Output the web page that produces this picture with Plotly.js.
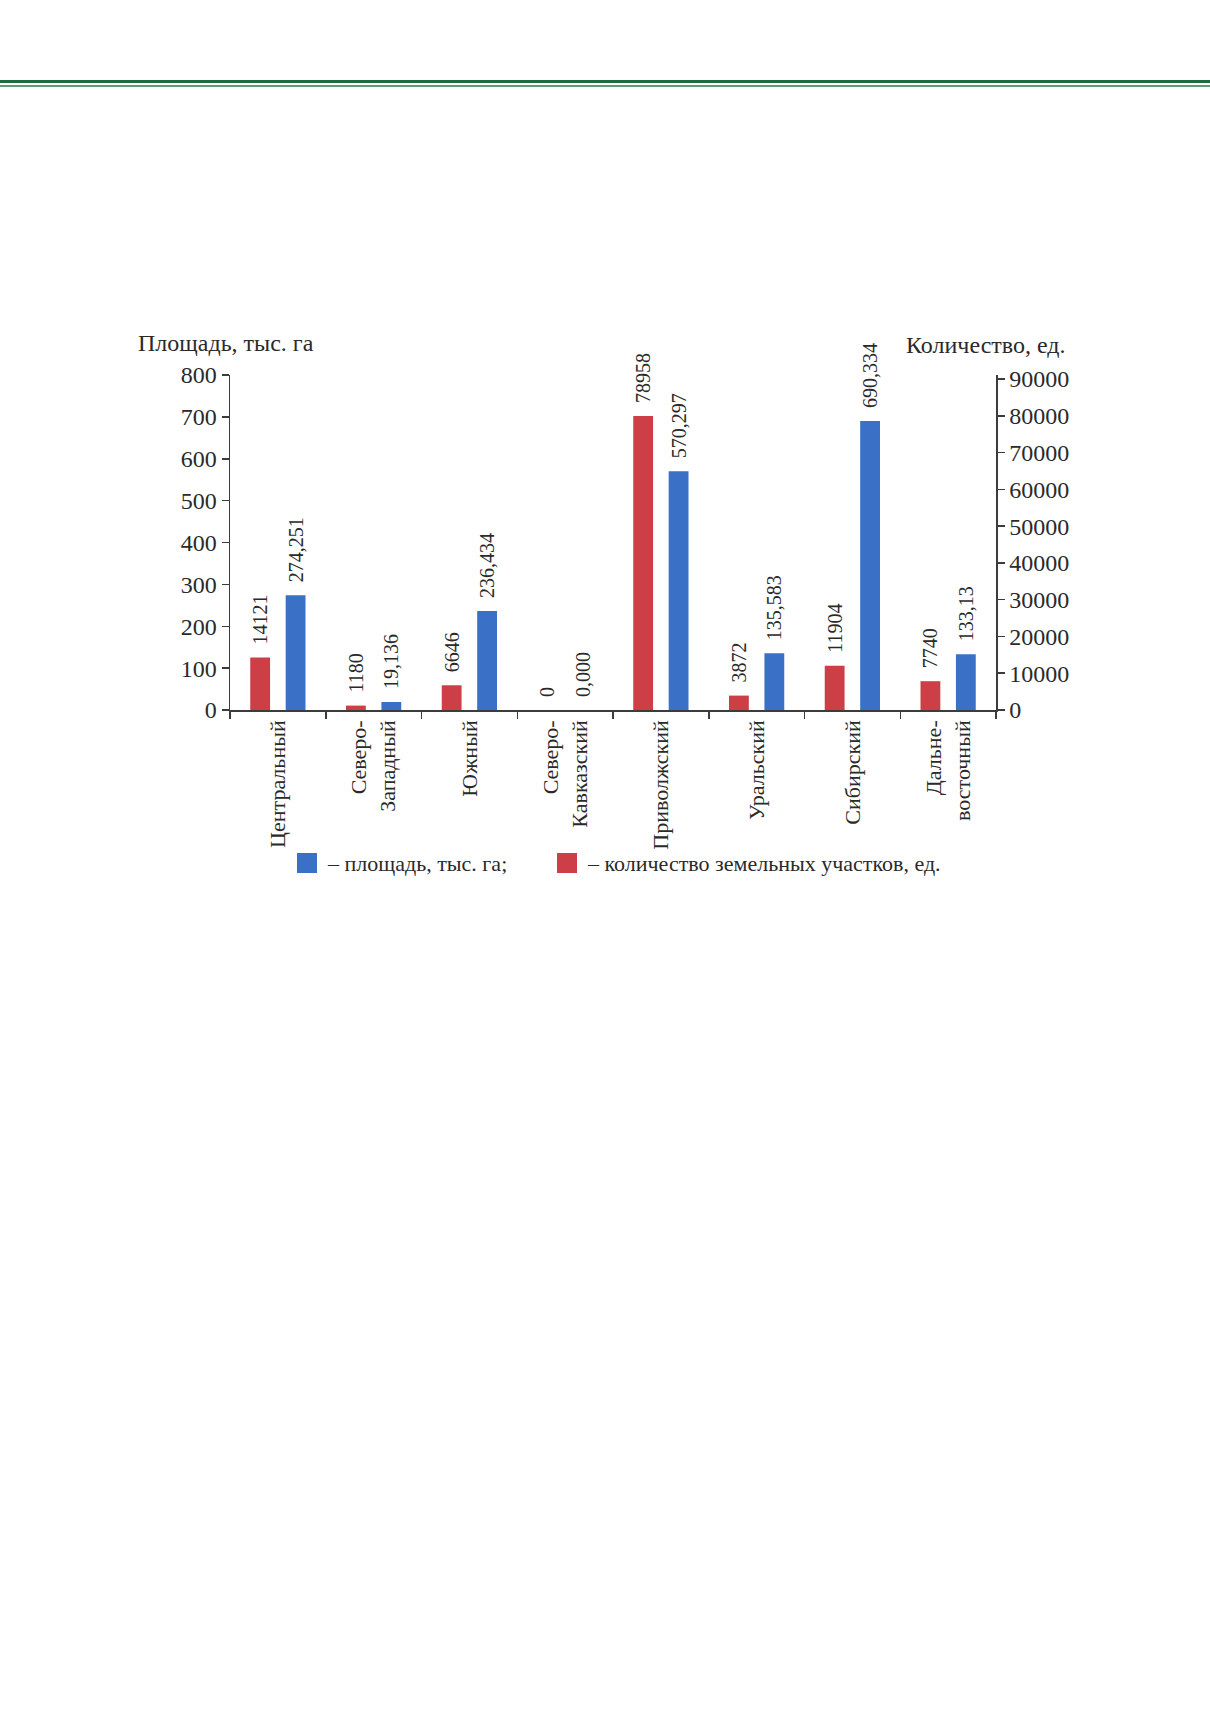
<!DOCTYPE html>
<html>
<head>
<meta charset="utf-8">
<script src="https://cdn.plot.ly/plotly-3.0.1.min.js"></script>
<style>
  html, body { margin: 0; padding: 0; background: #ffffff; }
  #page { position: relative; width: 1210px; height: 1712px; overflow: hidden; }
  .rule-dark  { position: absolute; left: 0; width: 1210px; top: 80px; height: 3px; background: #1c6b3c; }
  .rule-light { position: absolute; left: 0; width: 1210px; top: 85px; height: 2px; background: #5a9f72; }
  #chart { position: absolute; left: 0; top: 0; width: 1210px; height: 1712px; }
</style>
</head>
<body>
<div id="page">
  <div id="chart"></div>
  <div class="rule-dark"></div>
  <div class="rule-light"></div>
</div>
<script>
// Федеральные округа (подписи категорий)
const regions = [
  "Центральный", "Северо-<br>Западный", "Южный", "Северо-<br>Кавказский",
  "Приволжский", "Уральский", "Сибирский", "Дальне-<br>восточный"
];
// Площадь, тыс. га (левая ось)
const area = [274.251, 19.136, 236.434, 0, 570.297, 135.583, 690.334, 133.13];
const areaLabels = ["274,251", "19,136", "236,434", "0,000", "570,297", "135,583", "690,334", "133,13"];
// Количество земельных участков, ед. (правая ось)
const plots = [14121, 1180, 6646, 0, 78958, 3872, 11904, 7740];
const plotLabels = ["14121", "1180", "6646", "0", "78958", "3872", "11904", "7740"];

const leftTicks  = [0, 100, 200, 300, 400, 500, 600, 700, 800];
const rightTicks = [0, 10000, 20000, 30000, 40000, 50000, 60000, 70000, 80000, 90000];

const legendItems = [
  { label: "– площадь, тыс. га;", color: "#3a71c6" },
  { label: "– количество земельных участков, ед.", color: "#cc3f47" },
];

const RED  = "#cc3f47";
const BLUE = "#3a71c6";
const INK  = "#2a2a2a";
const AXIS = "#3c3c3c";
const FONT = "Liberation Serif, Times New Roman, serif";
const PAD  = "\u00a0\u00a0";

// plot box in page pixels
const L = 230, R = 996, T = 375, B = 710;
const PW = R - L, PH = B - T;
const px = x => (x - L) / PW;
const py = y => (B - y) / PH;

const BAR_W = 0.207;

const data = [
  {
    type: "bar", name: "count", x: regions, y: plots, yaxis: "y3",
    width: BAR_W, offset: -0.2885,
    marker: { color: RED, line: { width: 0 } },
    text: plotLabels.map(t => PAD + t), textposition: "outside", textangle: -90,
    constraintext: "none", cliponaxis: false,
    textfont: { family: FONT, size: 20, color: INK },
    showlegend: false, hoverinfo: "skip",
  },
  {
    type: "bar", name: "area", x: regions, y: area, yaxis: "y",
    width: BAR_W, offset: 0.0815,
    marker: { color: BLUE, line: { width: 0 } },
    text: areaLabels.map(t => PAD + t), textposition: "outside", textangle: -90,
    constraintext: "none", cliponaxis: false,
    textfont: { family: FONT, size: 20, color: INK },
    showlegend: false, hoverinfo: "skip",
  },
  // invisible point keeps the right-hand axis drawn
  {
    type: "scatter", mode: "markers", x: [regions[0]], y: [0], yaxis: "y2",
    marker: { opacity: 0 }, showlegend: false, hoverinfo: "skip",
  },
];

const axisCommon = {
  showline: true, linecolor: AXIS, linewidth: 1.5,
  ticks: "outside", ticklen: 7, tickwidth: 1.5, tickcolor: AXIS,
  showgrid: false, zeroline: false,
  tickfont: { family: FONT, size: 24, color: INK },
};

// legend drawn as swatch + text (square swatches 20px as in the source)
const swatchX = [307, 567];
const legendY = 863;
const shapes = legendItems.map((it, i) => ({
  type: "rect", xref: "paper", yref: "paper",
  xsizemode: "pixel", ysizemode: "pixel",
  xanchor: px(swatchX[i]), yanchor: py(legendY),
  x0: -10, x1: 10, y0: -10, y1: 10,
  fillcolor: it.color, line: { width: 0 },
}));
const legendText = legendItems.map((it, i) => ({
  xref: "paper", yref: "paper", x: px(swatchX[i] + 18), y: py(legendY),
  xanchor: "left", yanchor: "middle", showarrow: false,
  text: it.label, font: { family: FONT, size: 22, color: INK },
}));

const layout = {
  width: 1210, height: 1712,
  paper_bgcolor: "#ffffff", plot_bgcolor: "rgba(0,0,0,0)",
  margin: { l: L, r: 1210 - R, t: T, b: 1712 - B },
  font: { family: FONT, color: INK, size: 22 },
  barmode: "overlay",
  showlegend: false,
  xaxis: {
    ...axisCommon,
    type: "category", tickson: "boundaries", tickangle: -90,
    tickfont: { family: FONT, size: 22, color: INK },
    range: [-0.5, regions.length - 0.5],
  },
  yaxis: {
    ...axisCommon,
    range: [0, 800], tickvals: leftTicks, ticktext: leftTicks.map(String),
  },
  yaxis2: {
    ...axisCommon,
    overlaying: "y", side: "right", anchor: "x",
    range: [0, 90000 * 335 / 331],
    tickvals: rightTicks, ticktext: rightTicks.map(String),
  },
  yaxis3: {
    overlaying: "y", visible: false, range: [0, 90000], fixedrange: true,
  },
  shapes,
  annotations: [
    {
      xref: "paper", yref: "paper", x: px(136), y: py(343),
      xanchor: "left", yanchor: "middle", showarrow: false,
      text: "Площадь, тыс. га", font: { family: FONT, size: 24, color: INK },
    },
    {
      xref: "paper", yref: "paper", x: px(1068), y: py(345),
      xanchor: "right", yanchor: "middle", showarrow: false,
      text: "Количество, ед.", font: { family: FONT, size: 24, color: INK },
    },
    ...legendText,
  ],
};

Plotly.newPlot("chart", data, layout, { displayModeBar: false, staticPlot: true });
</script>
</body>
</html>
